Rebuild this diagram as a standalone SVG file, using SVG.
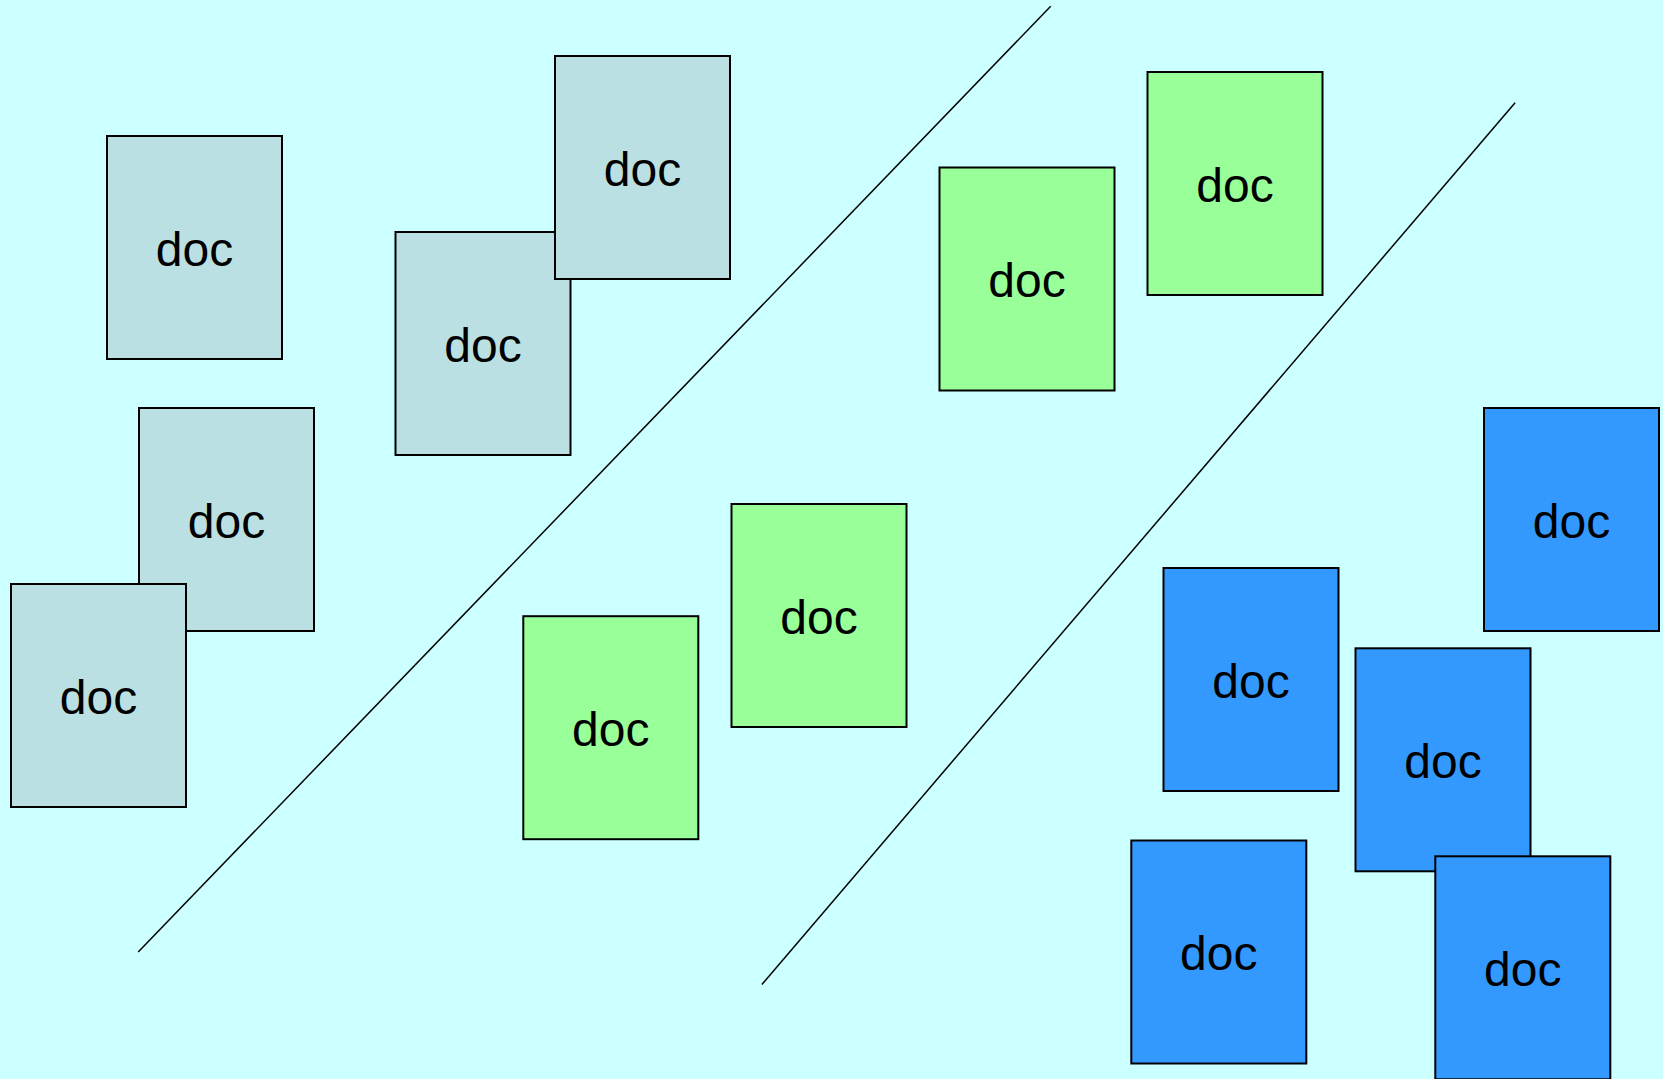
<svg xmlns="http://www.w3.org/2000/svg" width="1663" height="1079" viewBox="0 0 1663 1079">
<style>
.box{stroke:#000;stroke-width:2}
.gray{fill:#BBE0E3}
.green{fill:#99FF99}
.blue{fill:#3399FF}
.lbl{font-family:"Liberation Sans",Arial,sans-serif;font-size:48px;fill:#000;text-anchor:middle}
.div{stroke:#000;stroke-width:1.5;fill:none}
</style>
<rect x="0" y="0" width="1663" height="1079" fill="#CCFFFF"/>
<g id="connectors">
<line class="div" x1="1050.7" y1="6.3" x2="138.2" y2="952"/>
<line class="div" x1="1515.1" y1="102.7" x2="761.9" y2="984.4"/>
</g>
<g id="doc1"><rect class="box gray" x="107" y="136" width="175" height="223"/><text class="lbl" x="194.5" y="265.5">doc</text></g>
<g id="doc2"><rect class="box gray" x="139" y="408" width="175" height="223"/><text class="lbl" x="226.5" y="537.5">doc</text></g>
<g id="doc3"><rect class="box gray" x="11" y="584" width="175" height="223"/><text class="lbl" x="98.5" y="713.5">doc</text></g>
<g id="doc4"><rect class="box gray" x="395.5" y="232" width="175" height="223"/><text class="lbl" x="483" y="361.5">doc</text></g>
<g id="doc5"><rect class="box gray" x="555" y="56" width="175" height="223"/><text class="lbl" x="642.5" y="185.5">doc</text></g>
<g id="doc6"><rect class="box green" x="939.5" y="167.5" width="175" height="223"/><text class="lbl" x="1027" y="297">doc</text></g>
<g id="doc7"><rect class="box green" x="1147.5" y="72" width="175" height="223"/><text class="lbl" x="1235" y="201.5">doc</text></g>
<g id="doc8"><rect class="box green" x="731.5" y="504" width="175" height="223"/><text class="lbl" x="819" y="633.5">doc</text></g>
<g id="doc9"><rect class="box green" x="523.3" y="616.2" width="175" height="223"/><text class="lbl" x="610.8" y="745.7">doc</text></g>
<g id="doc10"><rect class="box blue" x="1484" y="408" width="175" height="223"/><text class="lbl" x="1571.5" y="537.5">doc</text></g>
<g id="doc11"><rect class="box blue" x="1163.5" y="568" width="175" height="223"/><text class="lbl" x="1251" y="697.5">doc</text></g>
<g id="doc12"><rect class="box blue" x="1355.5" y="648.3" width="175" height="223"/><text class="lbl" x="1443" y="777.8">doc</text></g>
<g id="doc13"><rect class="box blue" x="1131.3" y="840.5" width="175" height="223"/><text class="lbl" x="1218.8" y="970">doc</text></g>
<g id="doc14"><rect class="box blue" x="1435.3" y="856.3" width="175" height="223"/><text class="lbl" x="1522.8" y="985.8">doc</text></g>
</svg>
